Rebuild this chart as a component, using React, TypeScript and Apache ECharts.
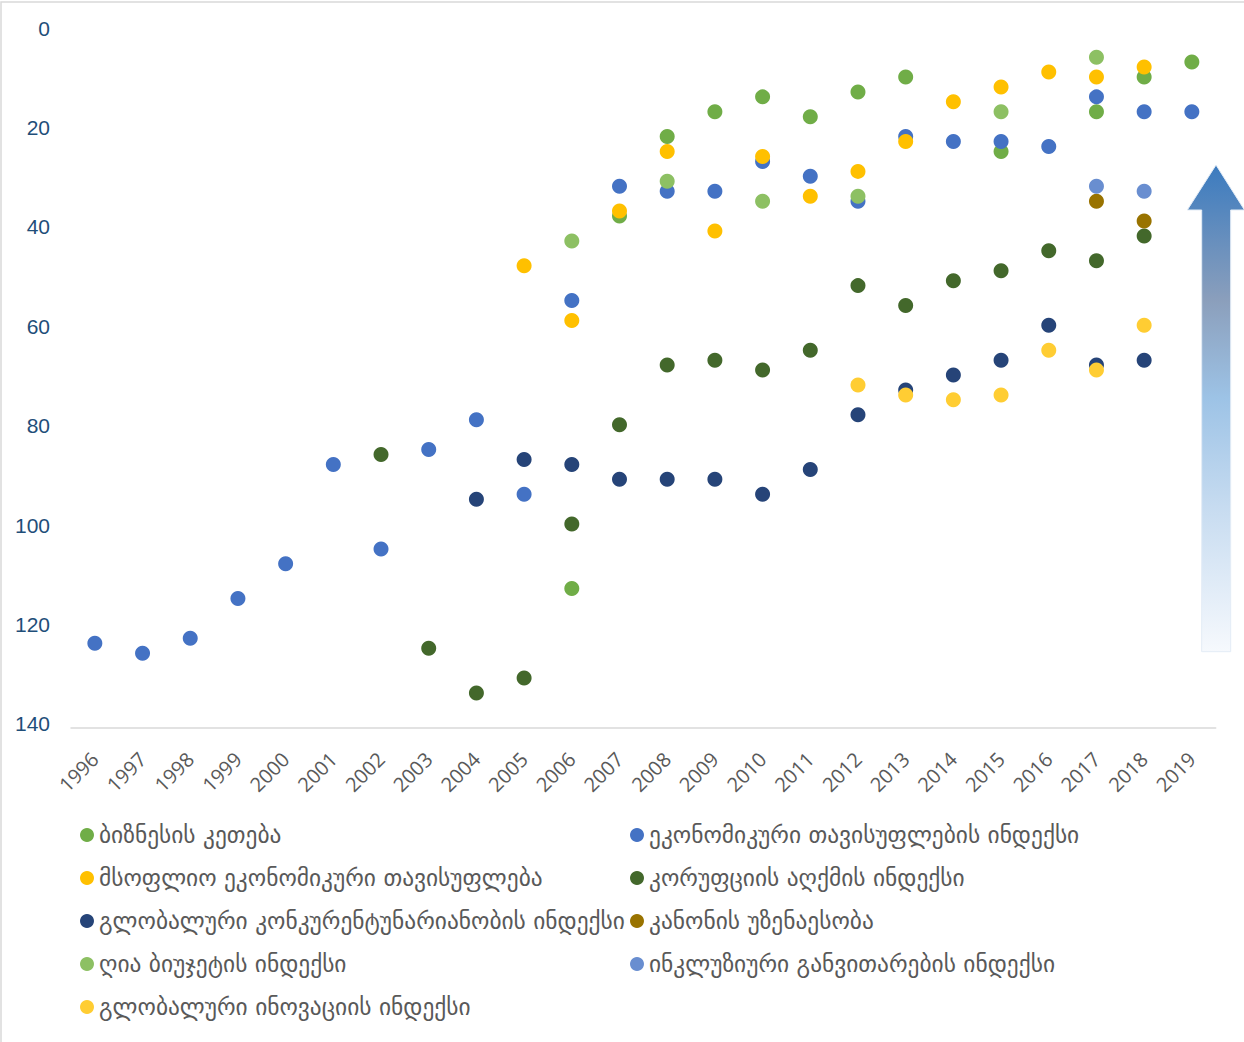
import React, { useEffect, useRef } from "react";
import * as echarts from "echarts";

const years: string[] = [
  "1996", "1997", "1998", "1999", "2000", "2001", "2002", "2003", "2004", "2005", "2006", "2007",
  "2008", "2009", "2010", "2011", "2012", "2013", "2014", "2015", "2016", "2017", "2018", "2019",
];

type V = number | null;
// values indexed by year 1996..2019
const doingBusiness: V[] = [null, null, null, null, null, null, null, null, null, null, 112, 37, 21, 16, 13, 17, 12, 9, null, 24, null, 16, 9, 6];
const econFreedomIndex: V[] = [123, 125, 122, 114, 107, 87, 104, 84, 78, 93, 54, 31, 32, 32, 26, 29, 34, 21, 22, 22, 23, 13, 16, 16];
const worldEconFreedom: V[] = [null, null, null, null, null, null, null, null, null, 47, 58, 36, 24, 40, 25, 33, 28, 22, 14, 11, 8, 9, 7, null];
const corruptionIndex: V[] = [null, null, null, null, null, null, 85, 124, 133, 130, 99, 79, 67, 66, 68, 64, 51, 55, 50, 48, 44, 46, 41, null];
const competitivenessIndex: V[] = [null, null, null, null, null, null, null, null, 94, 86, 87, 90, 90, 90, 93, 88, 77, 72, 69, 66, 59, 67, 66, null];
const ruleOfLaw: V[] = [null, null, null, null, null, null, null, null, null, null, null, null, null, null, null, null, null, null, null, null, null, 34, 38, null];
const openBudget: V[] = [null, null, null, null, null, null, null, null, null, null, 42, null, 30, null, 34, null, 33, null, null, 16, null, 5, null, null];
const inclusiveDev: V[] = [null, null, null, null, null, null, null, null, null, null, null, null, null, null, null, null, null, null, null, null, null, 31, 32, null];
const innovationIndex: V[] = [null, null, null, null, null, null, null, null, null, null, null, null, null, null, null, null, 71, 73, 74, 73, 64, 68, 59, null];

const seriesNames: string[] = [
  "ბიზნესის კეთება",
  "ეკონომიკური თავისუფლების ინდექსი",
  "მსოფლიო ეკონომიკური თავისუფლება",
  "კორუფციის აღქმის ინდექსი",
  "გლობალური კონკურენტუნარიანობის ინდექსი",
  "კანონის უზენაესობა",
  "ღია ბიუჯეტის ინდექსი",
  "ინკლუზიური განვითარების ინდექსი",
  "გლობალური ინოვაციის ინდექსი",
];
const seriesValues: V[][] = [
  doingBusiness, econFreedomIndex, worldEconFreedom, corruptionIndex, competitivenessIndex,
  ruleOfLaw, openBudget, inclusiveDev, innovationIndex,
];
const seriesColors: string[] = [
  "#70AD47", "#4472C4", "#FFC000", "#43682B", "#264478", "#997300", "#8DC063", "#698ED0", "#FFCD33",
];

export default function App() {
  const ref = useRef<HTMLDivElement>(null);
  useEffect(() => {
    if (!ref.current) return;
    const chart = echarts.init(ref.current, undefined, { renderer: "svg" });
    const legendText = { fontFamily: "DejaVu Sans", fontSize: 23.4, color: "#595959", lineHeight: 24 };
    const option: any = {
      animation: false,
      backgroundColor: "#ffffff",
      grid: { left: 71, right: 28.3, top: 32.3, bottom: 314.3, containLabel: false },
      xAxis: {
        type: "category",
        data: years,
        boundaryGap: true,
        position: "bottom",
        axisLine: { show: true, onZero: false, lineStyle: { color: "#D9D9D9", width: 1.5 } },
        axisTick: { show: false },
        splitLine: { show: false },
        axisLabel: {
          rotate: 45,
          interval: 0,
          margin: 28,
          color: "#595959",
          fontFamily: "Open Sans",
          fontSize: 20,
        },
      },
      yAxis: {
        type: "value",
        inverse: true,
        min: 0,
        max: 140,
        interval: 20,
        axisLine: { show: false },
        axisTick: { show: false },
        splitLine: { show: false },
        axisLabel: {
          margin: 21,
          color: "#1F4E79",
          fontFamily: "Liberation Sans",
          fontSize: 21,
          verticalAlign: "bottom",
          lineHeight: 8,
        },
      },
      legend: [
        {
          orient: "vertical",
          left: 80,
          top: 823,
          padding: 0,
          itemGap: 19,
          itemWidth: 14,
          itemHeight: 14,
          icon: "circle",
          textStyle: legendText,
          data: [seriesNames[0], seriesNames[2], seriesNames[4], seriesNames[6], seriesNames[8]],
        },
        {
          orient: "vertical",
          left: 630,
          top: 823,
          padding: 0,
          itemGap: 19,
          itemWidth: 14,
          itemHeight: 14,
          icon: "circle",
          textStyle: legendText,
          data: [seriesNames[1], seriesNames[3], seriesNames[5], seriesNames[7]],
        },
      ],
      series: seriesNames.map((name, i) => ({
        name,
        type: "scatter",
        symbol: "circle",
        symbolSize: 15,
        itemStyle: { color: seriesColors[i], opacity: 1 },
        data: seriesValues[i].map((v) => (v === null ? "-" : v)),
      })),
      graphic: [
        {
          type: "rect",
          silent: true,
          shape: { x: 1, y: 2, width: 1300, height: 1100 },
          style: { fill: "none", stroke: "#D9D9D9", lineWidth: 1.5 },
        },
        {
          type: "polygon",
          silent: true,
          shape: {
            points: [
              [1216, 165], [1244.5, 210], [1230.7, 210], [1230.7, 651.7],
              [1201.7, 651.7], [1201.7, 210], [1187.3, 210],
            ],
          },
          style: {
            fill: new echarts.graphic.LinearGradient(0, 0, 0, 1, [
              { offset: 0, color: "#3B7BBF" },
              { offset: 0.28, color: "#8B9FBC" },
              { offset: 0.48, color: "#9DC3E6" },
              { offset: 0.7, color: "#C6DBF0" },
              { offset: 1, color: "#F6F9FD" },
            ]),
            stroke: "#E3ECF6",
            lineWidth: 1,
          },
        },
      ],
    };
    chart.setOption(option);
    return () => chart.dispose();
  }, []);
  return (
    <div
      ref={ref}
      style={{ position: "absolute", left: 0, top: 0, width: 1244, height: 1042 }}
    />
  );
}
